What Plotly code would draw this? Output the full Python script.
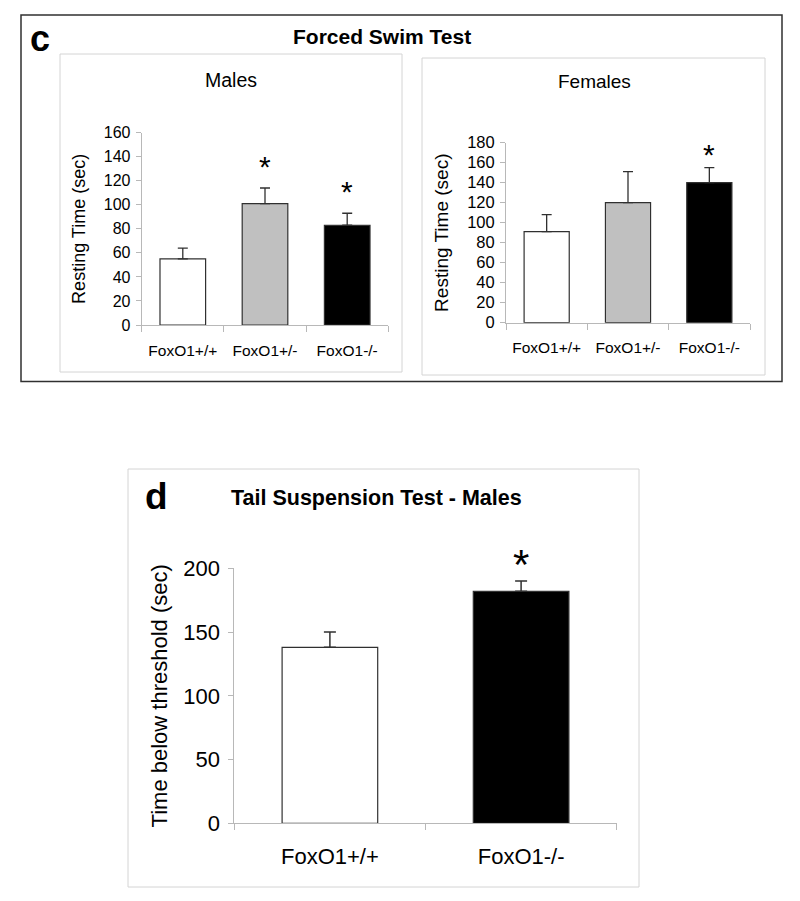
import plotly.graph_objects as go

# ---- data ----
genotypes_c = ["FoxO1+/+", "FoxO1+/-", "FoxO1-/-"]
males_mean = [55, 101, 83]
males_sem = [9, 13, 10]
males_sig = [False, True, True]
females_mean = [91, 120, 140]
females_sem = [17, 31, 15]
females_sig = [False, False, True]

genotypes_d = ["FoxO1+/+", "FoxO1-/-"]
tst_mean = [138, 182]
tst_sem = [12, 8]
tst_sig = [False, True]

bar_colors_c = ["#ffffff", "#c0c0c0", "#000000"]
bar_colors_d = ["#ffffff", "#000000"]

FONT = "Liberation Sans, Arial, sans-serif"
W, H = 800, 901

def px(x):
    return x / W

def py(y):
    return 1 - y / H

fig = go.Figure()

def add_bars(cats, means, sems, colors, xa, ya, width, ecap, ewidth):
    fig.add_trace(go.Bar(
        x=cats, y=means, width=width,
        marker=dict(color=colors, line=dict(color="#303030", width=1.2)),
        error_y=dict(type="data", symmetric=False, array=sems,
                     arrayminus=[0] * len(sems), color="#303030",
                     thickness=ewidth, width=ecap),
        xaxis=xa, yaxis=ya, showlegend=False, hoverinfo="skip",
    ))

add_bars(genotypes_c, males_mean, males_sem, bar_colors_c, "x", "y", 0.555, 5, 1.3)
add_bars(genotypes_c, females_mean, females_sem, bar_colors_c, "x2", "y2", 0.555, 5, 1.3)
add_bars(genotypes_d, tst_mean, tst_sem, bar_colors_d, "x3", "y3", 0.5, 6, 1.5)

AX = "#b8b8b8"

def xaxis(dom, anchor, size, standoff):
    return dict(domain=dom, anchor=anchor, type="category", automargin=False,
                showline=True, linecolor=AX, linewidth=1,
                ticks="outside", tickson="boundaries", ticklen=6,
                tickcolor=AX, tickwidth=1, showgrid=False, zeroline=False,
                ticklabelstandoff=standoff,
                tickfont=dict(family=FONT, size=size, color="#000"))

def yaxis(dom, anchor, rng, dtick, size, lstand, title, tsize, standoff):
    return dict(domain=dom, anchor=anchor, range=rng, dtick=dtick, automargin=False,
                showline=True, linecolor=AX, linewidth=1,
                ticks="outside", ticklen=5, tickcolor=AX, tickwidth=1,
                showgrid=False, zeroline=False, ticklabelstandoff=lstand,
                tickfont=dict(family=FONT, size=size, color="#000"),
                title=dict(text=title, standoff=standoff,
                           font=dict(family=FONT, size=tsize, color="#000")))

fig.update_layout(
    width=W, height=H, margin=dict(l=0, r=0, t=0, b=0, autoexpand=False),
    paper_bgcolor="white", plot_bgcolor="white",
    xaxis=xaxis([px(141.7), px(388.3)], "y", 15.5, 11),
    yaxis=yaxis([py(325), py(132.7)], "x", [0, 160], 20, 16, 2, "Resting Time (sec)", 18, 13),
    xaxis2=xaxis([px(506), px(750)], "y2", 15.5, 11),
    yaxis2=yaxis([py(322.7), py(142.7)], "x2", [0, 180], 20, 16.5, 2, "Resting Time (sec)", 19, 13),
    xaxis3=xaxis([px(234.3), px(616.7)], "y3", 22, 13),
    yaxis3=yaxis([py(823.3), py(568.3)], "x3", [0, 200], 50, 22, 4, "Time below threshold (sec)", 22, 9),
)

# significance stars
def add_stars(cats, means, sems, sig, xa, ya, size, shift):
    for c, m, s, g in zip(cats, means, sems, sig):
        if g:
            fig.add_annotation(x=c, y=m + s, xref=xa, yref=ya, text="*",
                               showarrow=False, yanchor="bottom", yshift=shift,
                               font=dict(family=FONT, size=size, color="#000"))

add_stars(genotypes_c, males_mean, males_sem, males_sig, "x", "y", 30, 3)
add_stars(genotypes_c, females_mean, females_sem, females_sig, "x2", "y2", 30, -5)
add_stars(genotypes_d, tst_mean, tst_sem, tst_sig, "x3", "y3", 42, -9)

# boxes
def box(x0, y0, x1, y1, color, w):
    fig.add_shape(type="rect", xref="paper", yref="paper",
                  x0=px(x0), x1=px(x1), y0=py(y1), y1=py(y0),
                  line=dict(color=color, width=w), fillcolor="rgba(0,0,0,0)", layer="below")

box(21, 15, 782, 381.5, "#303030", 1.5)
box(60, 54, 402, 372, "#d4d4d4", 1)
box(422, 58, 765, 375, "#d4d4d4", 1)
box(128, 469, 639, 887, "#d4d4d4", 1)

def text(x, y, s, size, bold=False, xanchor="center"):
    fig.add_annotation(x=px(x), y=py(y), xref="paper", yref="paper",
                       text=f"<b>{s}</b>" if bold else s, showarrow=False,
                       xanchor=xanchor, yanchor="middle",
                       font=dict(family=FONT, size=size, color="#000"))

text(381.5, 36, "Forced Swim Test", 21, bold=True)
text(40, 38, "c", 36, bold=True)
text(230.5, 80, "Males", 19.5)
text(594, 82, "Females", 19)
text(376, 498, "Tail Suspension Test - Males", 21.5, bold=True)
text(156, 496, "d", 37, bold=True)

fig.write_html("out.html", config={"displayModeBar": False},
               post_script="document.body.style.margin='0';document.body.style.overflow='hidden';")
